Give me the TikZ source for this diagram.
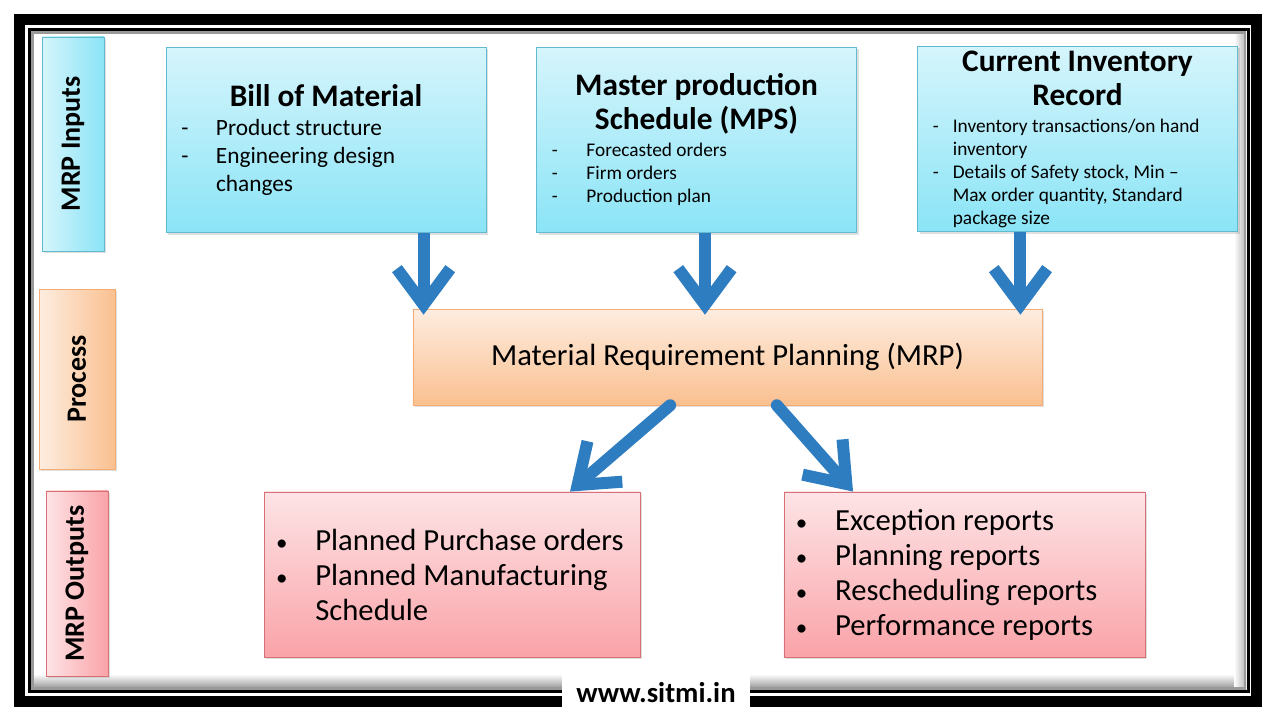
\documentclass[tikz,border=0pt]{standalone}
\usepackage{fontspec}
\setmainfont{Carlito}
\usepackage{xcolor}
\usetikzlibrary{arrows.meta, positioning, shadows}

\definecolor{cyantop}{RGB}{214,245,252}
\definecolor{cyanbot}{RGB}{138,228,246}
\definecolor{cyanedge}{RGB}{96,186,208}
\definecolor{orangetop}{RGB}{253,237,224}
\definecolor{orangebot}{RGB}{250,192,144}
\definecolor{orangeedge}{RGB}{244,172,116}
\definecolor{pinktop}{RGB}{253,228,230}
\definecolor{pinkbot}{RGB}{250,163,168}
\definecolor{pinkedge}{RGB}{214,112,118}
\definecolor{arrowblue}{RGB}{46,125,192}

\newcommand{\ttlfont}{\fontsize{23.5}{25.5}\selectfont\bfseries}
\newcommand{\bomfont}{\fontsize{17.5}{21}\selectfont}
\newcommand{\smlfont}{\fontsize{14.5}{17.25}\selectfont}
\newcommand{\mrpfont}{\fontsize{23}{27}\selectfont}
\newcommand{\outfont}{\fontsize{23}{26.25}\selectfont}
\newcommand{\lblfont}{\fontsize{21}{25}\selectfont\bfseries}
\newcommand{\webfont}{\fontsize{21.5}{25}\selectfont\bfseries}
\newcommand{\dsh}[1]{\makebox[#1][l]{-}}
\newcommand{\bul}{\makebox[31pt][l]{\hspace{1.5pt}\scalebox{0.75}{\textbullet}}}

\begin{document}
\begin{tikzpicture}[x=0.75pt, y=-0.75pt,
        inbox/.style={rectangle, draw=cyanedge, top color=cyantop, bottom color=cyanbot, minimum width=240pt, minimum height=139pt, inner xsep=11.5pt, inner ysep=0pt, text width=217pt, align=flush left, execute at begin node={\spaceskip=0pt\xspaceskip=0pt}, drop shadow={shadow xshift=1.5pt, shadow yshift=-1.5pt, opacity=0.25}},
        procbox/.style={rectangle, draw=orangeedge, top color=orangetop, bottom color=orangebot, minimum width=472pt, minimum height=72pt, font=\mrpfont, drop shadow={shadow xshift=1.5pt, shadow yshift=-1.5pt, opacity=0.25}},
        outbox/.style={rectangle, draw=pinkedge, top color=pinktop, bottom color=pinkbot, minimum height=124pt, inner xsep=7.25pt, align=flush left, execute at begin node={\spaceskip=0pt\xspaceskip=0pt}, font=\outfont, drop shadow={shadow xshift=1.5pt, shadow yshift=-1.5pt, opacity=0.25}},
        lbl/.style={rectangle, inner sep=0pt, font=\lblfont, drop shadow={shadow xshift=1.5pt, shadow yshift=-1.5pt, opacity=0.25}},
        flow/.style={draw=arrowblue, line width=9pt, -{Straight Barb[length=27pt, width=40pt]}}
    ]
    \useasboundingbox (0,0) rectangle (1280,720);

    % frame
    \fill[top color=white, bottom color=black!45] (31,674) rectangle (1246,690);
    \fill[left color=white, right color=black!30] (1234,31) rectangle (1246,690);
    \draw[black!40, line width=2pt] (32.5,32.5) rectangle (1245,688.5);
    \draw[line width=8.25pt] (19.5,19.5) rectangle (1256.5,701.5);
    \draw[line width=2.25pt] (29.5,29.5) rectangle (1248,691.5);

    % row labels
    \node[lbl, draw=cyanedge, left color=cyantop, right color=cyanbot, minimum width=46.5pt, minimum height=160.5pt] (inlbl) at (73,144) {\rotatebox{90}{MRP Inputs}};
    \node[lbl, draw=orangeedge, left color=orangetop, right color=orangebot, minimum width=57pt, minimum height=135pt] (proclbl) at (77,379) {\rotatebox{90}{Process}};
    \node[lbl, draw=pinkedge, left color=pinktop, right color=pinkbot, minimum width=46.5pt, minimum height=139pt] (outlbl) at (77,583.5) {\rotatebox{90}{MRP Outputs}};

    % inputs
    \node[inbox] (bom) at (326,140) {{\centering\ttlfont Bill of Material\par}\vspace{1pt}
        \bomfont\dsh{26pt}Product structure\\
        \dsh{26pt}Engineering design\\
        \hspace*{26pt}changes\par};
    \node[inbox] (mps) at (696.5,140) {{\centering\ttlfont Master production\par Schedule (MPS)\par}\vspace{3pt}
        \smlfont\dsh{26pt}Forecasted orders\\
        \dsh{26pt}Firm orders\\
        \dsh{26pt}Production plan\par};
    \node[inbox] (cir) at (1077.5,139) {{\centering\ttlfont Current Inventory\par Record\par}\vspace{3pt}
        \smlfont\dsh{15pt}Inventory transactions/on hand\\
        \hspace*{15pt}inventory\\
        \dsh{15pt}Details of Safety stock, Min --\\
        \hspace*{15pt}Max order quantity, Standard\\
        \hspace*{15pt}package size\par};

    % process
    \node[procbox] (mrp) at (727.5,357) {Material Requirement Planning (MRP)};

    % outputs
    \node[outbox, minimum width=282pt, text width=267pt] (plan) at (452,574.5) {\bul Planned Purchase orders\\
        \bul Planned Manufacturing\\
        \hspace*{31pt}Schedule\par};
    \node[outbox, minimum width=271pt, text width=256pt] (rep) at (964.5,574.5) {\bul Exception reports\\
        \bul Planning reports\\
        \bul Rescheduling reports\\
        \bul Performance reports\par};

    \node[fill=white, minimum width=141pt, minimum height=31.5pt, font=\webfont] (web) at (656,693) {www.sitmi.in};

    \coordinate (t1) at ([xshift=8.25pt, yshift=-4.5pt]mrp.north west);
    \coordinate (t2) at ([xshift=-16.9pt, yshift=-4.5pt]mrp.north);
    \coordinate (t3) at ([xshift=-16.5pt, yshift=-4.5pt]mrp.north east);
    \coordinate (t4) at ([xshift=88.5pt]plan.north);
    \coordinate (t5) at ([xshift=-83.6pt]rep.north);

    \path [flow] (bom.south -| t1) -- (t1);
    \path [flow] (mps.south -| t2) -- (t2);
    \path [flow] (cir.south -| t3) -- (t3);
    \path [flow, line cap=round] ([xshift=-43pt]mrp.south) -- (t4);
    \path [flow, line cap=round] ([xshift=37pt]mrp.south) -- (t5);
\end{tikzpicture}
\end{document}
